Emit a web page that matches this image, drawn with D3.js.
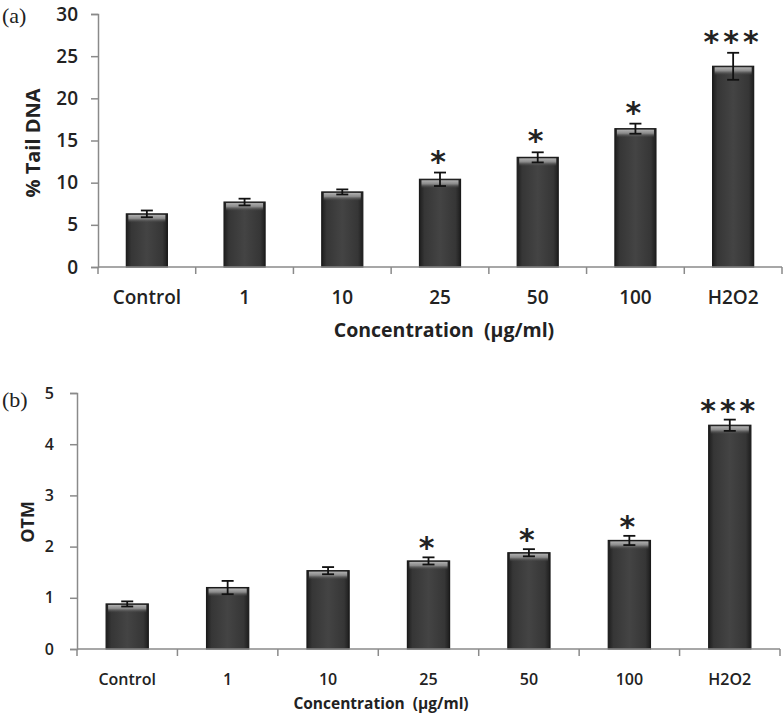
<!DOCTYPE html>
<html>
<head>
<meta charset="utf-8">
<script src="https://cdn.jsdelivr.net/npm/d3@7"></script>
<style>
  html, body { margin: 0; padding: 0; background: #fff; }
  svg { display: block; }
  text { fill: #222; }
</style>
</head>
<body>
<script>
// ---------- data ----------
const categories = ["Control", "1", "10", "25", "50", "100", "H2O2"];

const tailDNA      = [6.3, 7.7, 8.9, 10.4, 13.0, 16.4, 23.8];
const tailDNAErr   = [0.4, 0.4, 0.3, 0.8, 0.6, 0.6, 1.6];
const tailDNASig   = ["", "", "", "*", "*", "*", "***"];
const tailDNATicks = [0, 5, 10, 15, 20, 25, 30];

const otm      = [0.88, 1.20, 1.53, 1.72, 1.88, 2.12, 4.37];
const otmErr   = [0.05, 0.13, 0.07, 0.07, 0.07, 0.09, 0.11];
const otmSig   = ["", "", "", "*", "*", "*", "***"];
const otmTicks = [0, 1, 2, 3, 4, 5];

// ---------- drawing ----------
const W = 783, H = 714;
const svg = d3.select("body").append("svg").attr("width", W).attr("height", H);

const defs = svg.append("defs");
const side = defs.append("linearGradient").attr("id", "barSide")
  .attr("x1", "0%").attr("x2", "100%").attr("y1", "0%").attr("y2", "0%");
side.append("stop").attr("offset", "0%").attr("stop-color", "#1e1e1e");
side.append("stop").attr("offset", "12%").attr("stop-color", "#363636");
side.append("stop").attr("offset", "50%").attr("stop-color", "#444444");
side.append("stop").attr("offset", "88%").attr("stop-color", "#363636");
side.append("stop").attr("offset", "100%").attr("stop-color", "#1e1e1e");
const cap = defs.append("linearGradient").attr("id", "barCap")
  .attr("x1", "0%").attr("x2", "0%").attr("y1", "0%").attr("y2", "100%");
cap.append("stop").attr("offset", "0%").attr("stop-color", "#b0b0b0");
cap.append("stop").attr("offset", "45%").attr("stop-color", "#8a8a8a");
cap.append("stop").attr("offset", "100%").attr("stop-color", "#444444").attr("stop-opacity", 0);

function drawPanel(o) {
  const g = svg.append("g");
  const x = d3.scaleBand().domain(categories).range([o.x0, o.x1]).paddingInner(0.58).paddingOuter(0.29);
  const xb = d3.scaleBand().domain(categories).range([o.x0, o.x1]);
  const y = d3.scaleLinear().domain([0, o.yMax]).range([o.y0, o.y1]);

  // bars
  const bars = g.append("g").selectAll("g").data(categories).join("g");
  bars.append("rect")
    .attr("x", d => x(d)).attr("width", x.bandwidth())
    .attr("y", (d, i) => y(o.values[i]))
    .attr("height", (d, i) => y(0) - y(o.values[i]))
    .attr("fill", "url(#barSide)")
    .attr("stroke", "#1a1a1a").attr("stroke-width", 1.2);
  bars.append("rect")
    .attr("x", d => x(d) + 2).attr("width", x.bandwidth() - 4)
    .attr("y", (d, i) => y(o.values[i]) + 1)
    .attr("height", 8)
    .attr("fill", "url(#barCap)");

  // error bars
  const eb = g.append("g").attr("stroke", "#111").attr("stroke-width", 1.8);
  categories.forEach((c, i) => {
    const cx = x(c) + x.bandwidth() / 2;
    const hi = y(o.values[i] + o.err[i]), lo = y(o.values[i] - o.err[i]);
    eb.append("line").attr("x1", cx).attr("x2", cx).attr("y1", hi).attr("y2", lo);
    eb.append("line").attr("x1", cx - 6).attr("x2", cx + 6).attr("y1", hi).attr("y2", hi);
    eb.append("line").attr("x1", cx - 6).attr("x2", cx + 6).attr("y1", lo).attr("y2", lo);
  });

  // significance stars
  g.append("g").selectAll("text").data(categories).join("text")
    .attr("x", d => x(d) + x.bandwidth() / 2)
    .attr("y", (d, i) => y(o.values[i] + o.err[i]) - o.starGap)
    .attr("text-anchor", "middle")
    .attr("font-family", "DejaVu Sans")
    .attr("font-weight", 700)
    .attr("font-size", 30)
    .attr("letter-spacing", 4)
    .text((d, i) => o.sig[i]);

  // y axis
  const ya = g.append("g").attr("transform", `translate(${o.x0},0)`)
    .call(d3.axisLeft(y).tickValues(o.ticks).tickSize(7).tickPadding(o.tickPad).tickFormat(d3.format("d")));
  // x axis
  const xa = g.append("g").attr("transform", `translate(0,${o.y0})`)
    .call(d3.axisBottom(xb).tickSize(0).tickPadding(o.xPad));
  // boundary ticks
  const bounds = categories.map(c => xb(c)).concat([o.x1]);
  g.append("g").selectAll("line").data(bounds).join("line")
    .attr("x1", d => d).attr("x2", d => d)
    .attr("y1", o.y0).attr("y2", o.y0 + 7)
    .attr("stroke", "#8a8a8a").attr("stroke-width", 1.5);

  [ya, xa].forEach(a => {
    a.selectAll("path.domain").attr("stroke", "#8a8a8a").attr("stroke-width", 1.5);
    a.selectAll(".tick line").attr("stroke", "#8a8a8a").attr("stroke-width", 1.5);
    a.selectAll("text").attr("font-family", "Open Sans").attr("font-weight", 600)
      .attr("font-size", o.fs).attr("fill", "#222");
  });
  xa.select("path.domain").attr("d", `M${o.x0},0H${o.x1}`);

  // titles
  g.append("text").attr("x", o.xtX).attr("y", o.xtY).attr("text-anchor", "middle")
    .attr("font-family", "Open Sans").attr("font-weight", 700).attr("font-size", o.xtfs)
    .attr("xml:space", "preserve").text(o.xTitle);
  g.append("text").attr("transform", `translate(${o.ytX},${o.ytY}) rotate(-90)`)
    .attr("text-anchor", "middle")
    .attr("font-family", "Open Sans").attr("font-weight", 700).attr("font-size", o.ytfs)
    .text(o.yTitle);
  g.append("text").attr("x", 2).attr("y", o.labY)
    .attr("font-family", "Liberation Serif").attr("font-size", 22).text(o.label);
}

drawPanel({
  x0: 98, x1: 782, y0: 267, y1: 14, yMax: 30,
  values: tailDNA, err: tailDNAErr, sig: tailDNASig, ticks: tailDNATicks,
  fs: 19, xtfs: 19.5, ytfs: 20, tickPad: 13, xPad: 24, starGap: 1,
  xTitle: "Concentration  (µg/ml)", xtX: 444, xtY: 337,
  yTitle: "% Tail DNA", ytX: 40, ytY: 143,
  label: "(a)", labY: 23
});

drawPanel({
  x0: 77, x1: 780, y0: 649, y1: 393, yMax: 5,
  values: otm, err: otmErr, sig: otmSig, ticks: otmTicks,
  fs: 16, xtfs: 15.5, ytfs: 18, tickPad: 16, xPad: 25, starGap: -1,
  xTitle: "Concentration  (µg/ml)", xtX: 381, xtY: 709,
  yTitle: "OTM", ytX: 34, ytY: 522,
  label: "(b)", labY: 407
});
</script>
</body>
</html>
